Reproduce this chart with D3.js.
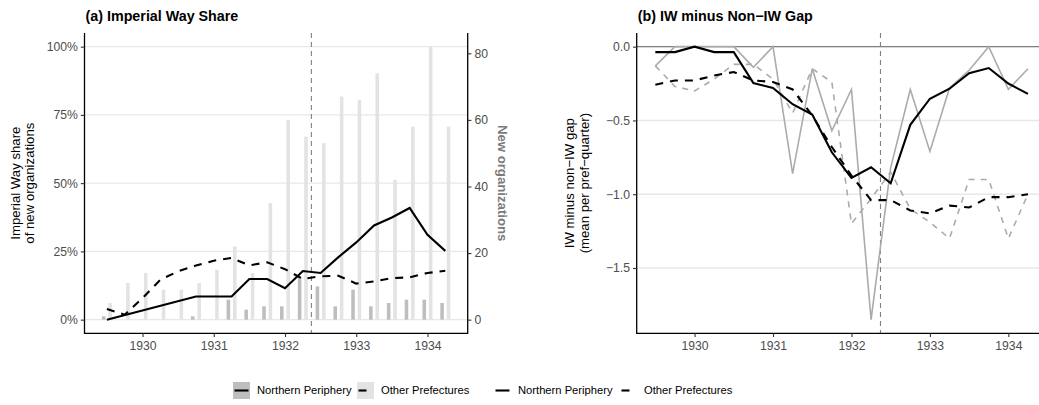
<!DOCTYPE html>
<html>
<head>
<meta charset="utf-8">
<script src="https://cdn.jsdelivr.net/npm/d3@7"></script>
<style>
  body { margin: 0; background: #fff; }
  svg { display: block; font-family: "Liberation Sans", Arial, Helvetica, sans-serif; }
</style>
</head>
<body>
<svg id="chart" width="1039" height="405"></svg>
<script>
// Quarter positions (decimal years) shared by both panels
const quarters = [1929.5, 1929.75, 1930, 1930.25, 1930.5, 1930.75, 1931, 1931.25, 1931.5, 1931.75,
                  1932, 1932.25, 1932.5, 1932.75, 1933, 1933.25, 1933.5, 1933.75, 1934, 1934.25];

// New organizations per quarter
const newOrgsPeriphery = [1, 0, 0, 0, 0, 1, 0, 6, 3, 4, 4, 13, 10, 4, 9, 4, 5, 6, 6, 5];
const newOrgsOther     = [5, 11, 14, 9, 9, 11, 15, 22, 14, 35, 60, 55, 53, 67, 66, 74, 42, 58, 82, 58];

// Imperial Way share of new organizations (percent); null where no organizations were founded
const iwSharePeriphery = [0, null, null, null, null, 8.5, null, 8.5, 14.9, 14.9,
                          11.5, 17.8, 17.1, 22.9, 28.3, 34.5, 37.4, 40.9, 31.1, 25.2];
const iwShareOther     = [3.9, 1.8, 7.9, 14.6, 17.7, 19.8, 21.6, 22.6, 19.9, 21.0,
                          18.5, 14.9, 15.9, 16.1, 13.2, 14.0, 15.2, 15.5, 17.1, 17.9];

// IW minus non-IW gap: quarterly values and smoothed trend
const gapPeriphery       = [-0.13, 0, 0, 0, 0, -0.14, 0, -0.86, -0.15, -0.57,
                            -0.29, -1.85, -0.82, -0.29, -0.71, -0.28, -0.16, 0, -0.29, -0.15];
const gapOther           = [-0.13, -0.27, -0.30, -0.22, -0.12, -0.12, -0.22, -0.45, -0.15, -0.24,
                            -1.20, -1.03, -0.85, -1.10, -1.19, -1.30, -0.90, -0.90, -1.30, -1.00];
const gapPeripheryTrend  = [-0.037, -0.037, 0, -0.037, -0.037, -0.247, -0.28, -0.39, -0.46, -0.716,
                            -0.89, -0.817, -0.926, -0.53, -0.353, -0.285, -0.18, -0.145, -0.25, -0.32];
const gapOtherTrend      = [-0.258, -0.229, -0.229, -0.195, -0.172, -0.229, -0.24, -0.29, -0.467, -0.68,
                            -0.874, -1.04, -1.04, -1.11, -1.13, -1.077, -1.09, -1.02, -1.02, -1.0];

// Axis ticks and labels
const yearTicks  = [1930, 1931, 1932, 1933, 1934];
const shareTicks = [0, 0.25, 0.5, 0.75, 1];
const countTicks = [0, 20, 40, 60, 80];
const gapTicks   = [0, -0.5, -1, -1.5];
const eventDate  = 1932.37;   // 15 May 1932
const groupNames = ["Northern Periphery", "Other Prefectures"];

const C = {
  ink: "#000", tick: "#4d4d4d", grid: "#e8e8e8", ref: "#808080",
  barDark: "#bebebe", barLight: "#e3e3e3", lineGrey: "#ababab", secTitle: "#7a7a7a"
};

const svg = d3.select("#chart");

function rotText(g, x, y, angle, txt, opts) {
  const t = g.append("text")
    .attr("transform", `translate(${x},${y}) rotate(${angle})`)
    .attr("text-anchor", "middle").attr("dy", "0.35em")
    .attr("font-size", opts.size).attr("fill", opts.fill || "#000")
    .text(txt);
  if (opts.bold) t.attr("font-weight", "bold");
  return t;
}

function styleAxis(sel, color) {
  sel.select(".domain").remove();
  sel.selectAll(".tick line").attr("stroke", "#333").attr("stroke-width", 1.1);
  sel.selectAll(".tick text").attr("fill", color).attr("font-size", 12.2)
     .attr("font-family", '"Liberation Sans", Arial, sans-serif');
}

// ---------------- Panel (a) ----------------
const A = { left: 84.5, right: 467.7, top: 33, bottom: 333.3 };
const barOffset = 0.045, barWidth = 0.05;
const xMinA = d3.min(quarters) - barOffset - barWidth / 2;
const xMaxA = d3.max(quarters) + barOffset + barWidth / 2;
const padA = (xMaxA - xMinA) * 0.05;
const xA = d3.scaleLinear().domain([xMinA - padA, xMaxA + padA]).range([A.left, A.right]);
const yShare = d3.scaleLinear().domain([-0.05, 1.05]).range([A.bottom, A.top]);
const maxCount = d3.max(newOrgsOther.concat(newOrgsPeriphery));
const yCount = d3.scaleLinear().domain([-0.05 * maxCount, 1.05 * maxCount]).range([A.bottom, A.top]);

const gA = svg.append("g");
gA.append("g").selectAll("line").data(shareTicks).join("line")
  .attr("x1", A.left).attr("x2", A.right)
  .attr("y1", d => yShare(d)).attr("y2", d => yShare(d))
  .attr("stroke", C.grid).attr("stroke-width", 1.4);

// bars: Northern Periphery left of the quarter, Other Prefectures right
const barsA = gA.append("g");
const barData = quarters.flatMap((q, i) => [
  { x: q - barOffset, n: newOrgsPeriphery[i], fill: C.barDark },
  { x: q + barOffset, n: newOrgsOther[i], fill: C.barLight }
]).filter(d => d.n > 0);
barsA.selectAll("rect").data(barData).join("rect")
  .attr("x", d => xA(d.x - barWidth / 2))
  .attr("width", d => xA(d.x + barWidth / 2) - xA(d.x - barWidth / 2))
  .attr("y", d => yCount(d.n)).attr("height", d => yCount(0) - yCount(d.n))
  .attr("fill", d => d.fill);

// event line
gA.append("line").attr("x1", xA(eventDate)).attr("x2", xA(eventDate))
  .attr("y1", A.top).attr("y2", A.bottom)
  .attr("stroke", C.ref).attr("stroke-width", 1.1).attr("stroke-dasharray", "5,4");

const shareLine = d3.line().x(d => xA(d.q)).y(d => yShare(d.v / 100));
const toPts = arr => quarters.map((q, i) => ({ q, v: arr[i] })).filter(d => d.v !== null);
gA.append("path").attr("d", shareLine(toPts(iwShareOther)))
  .attr("fill", "none").attr("stroke", C.ink).attr("stroke-width", 2.1)
  .attr("stroke-dasharray", "8,7");
gA.append("path").attr("d", shareLine(toPts(iwSharePeriphery)))
  .attr("fill", "none").attr("stroke", C.ink).attr("stroke-width", 2.1);

// axis lines
gA.append("path").attr("d", `M${A.left},${A.top}V${A.bottom}H${A.right}V${A.top}`)
  .attr("fill", "none").attr("stroke", "#000").attr("stroke-width", 1.3);

const axL = gA.append("g").attr("transform", `translate(${A.left},0)`)
  .call(d3.axisLeft(yShare).tickValues(shareTicks).tickFormat(d3.format(".0%")).tickSizeOuter(0).tickSize(3.7).tickPadding(3));
styleAxis(axL, C.tick);
const axR = gA.append("g").attr("transform", `translate(${A.right},0)`)
  .call(d3.axisRight(yCount).tickValues(countTicks).tickFormat(d3.format("d")).tickSizeOuter(0).tickSize(3.7).tickPadding(3));
styleAxis(axR, C.tick);
const axB = gA.append("g").attr("transform", `translate(0,${A.bottom})`)
  .call(d3.axisBottom(xA).tickValues(yearTicks).tickFormat(d3.format("d")).tickSizeOuter(0).tickSize(3.7).tickPadding(4));
styleAxis(axB, C.tick);

gA.append("text").attr("x", A.left + 1).attr("y", 20.5)
  .attr("font-size", 14.3).attr("font-weight", "bold").text("(a) Imperial Way Share");
const midA = (A.top + A.bottom) / 2;
rotText(gA, 15, midA, -90, "Imperial Way share", { size: 13.2 });
rotText(gA, 29.5, midA, -90, "of new organizations", { size: 13.2 });
rotText(gA, 503, midA, 90, "New organizations", { size: 13.2, bold: true, fill: C.secTitle });

// ---------------- Panel (b) ----------------
const B = { left: 636.7, right: 1046.6, top: 33, bottom: 333.3 };
const padB = (d3.max(quarters) - d3.min(quarters)) * 0.05;
const xB = d3.scaleLinear().domain([d3.min(quarters) - padB, d3.max(quarters) + padB]).range([B.left, B.right]);
const allGap = gapPeriphery.concat(gapOther, gapPeripheryTrend, gapOtherTrend);
const gMin = d3.min(allGap), gMax = d3.max(allGap);
const padG = (gMax - gMin) * 0.05;
const yGap = d3.scaleLinear().domain([gMin - padG, gMax + padG]).range([B.bottom, B.top]);

const gB = svg.append("g");
gB.append("g").selectAll("line").data(gapTicks).join("line")
  .attr("x1", B.left).attr("x2", B.right)
  .attr("y1", d => yGap(d)).attr("y2", d => yGap(d))
  .attr("stroke", C.grid).attr("stroke-width", 1.4);
gB.append("line").attr("x1", B.left).attr("x2", B.right)
  .attr("y1", yGap(0)).attr("y2", yGap(0))
  .attr("stroke", C.ref).attr("stroke-width", 1.1);
gB.append("line").attr("x1", xB(eventDate)).attr("x2", xB(eventDate))
  .attr("y1", B.top).attr("y2", B.bottom)
  .attr("stroke", C.ref).attr("stroke-width", 1.1).attr("stroke-dasharray", "5,4");

const gapLine = d3.line().x((d, i) => xB(quarters[i])).y(d => yGap(d));
gB.append("path").attr("d", gapLine(gapOther)).attr("fill", "none")
  .attr("stroke", C.lineGrey).attr("stroke-width", 1.6).attr("stroke-dasharray", "6,6");
gB.append("path").attr("d", gapLine(gapPeriphery)).attr("fill", "none")
  .attr("stroke", C.lineGrey).attr("stroke-width", 1.6);
gB.append("path").attr("d", gapLine(gapOtherTrend)).attr("fill", "none")
  .attr("stroke", C.ink).attr("stroke-width", 2.1).attr("stroke-dasharray", "8,7");
gB.append("path").attr("d", gapLine(gapPeripheryTrend)).attr("fill", "none")
  .attr("stroke", C.ink).attr("stroke-width", 2.1);

gB.append("path").attr("d", `M${B.left},${B.top}V${B.bottom}H${B.right}`)
  .attr("fill", "none").attr("stroke", "#000").attr("stroke-width", 1.3);
const axBL = gB.append("g").attr("transform", `translate(${B.left},0)`)
  .call(d3.axisLeft(yGap).tickValues(gapTicks).tickFormat(d3.format(".1f")).tickSizeOuter(0).tickSize(3.7).tickPadding(3));
styleAxis(axBL, C.tick);
const axBB = gB.append("g").attr("transform", `translate(0,${B.bottom})`)
  .call(d3.axisBottom(xB).tickValues(yearTicks).tickFormat(d3.format("d")).tickSizeOuter(0).tickSize(3.7).tickPadding(4));
styleAxis(axBB, C.tick);

gB.append("text").attr("x", B.left + 1).attr("y", 20.5)
  .attr("font-size", 14.3).attr("font-weight", "bold").text("(b) IW minus Non\u2212IW Gap");
rotText(gB, 569, midA, -90, "IW minus non\u2212IW gap", { size: 13.2 });
rotText(gB, 584, midA, -90, "(mean per pref\u2212quarter)", { size: 13.2 });

// ---------------- Legends ----------------
const legY = 382, keySize = 17;
const leg = svg.append("g").attr("font-size", 11.2);
const legendItems = [
  { x: 233, fill: C.barDark, dash: null, label: groupNames[0] },
  { x: 357, fill: C.barLight, dash: "8,7", label: groupNames[1] },
  { x: 494, fill: "none", dash: null, label: groupNames[0] },
  { x: 620, fill: "none", dash: "8,7", label: groupNames[1] }
];
legendItems.forEach(it => {
  if (it.fill !== "none") {
    leg.append("rect").attr("x", it.x).attr("y", legY).attr("width", keySize).attr("height", keySize)
      .attr("fill", it.fill);
  }
  const ln = leg.append("line").attr("x1", it.x + 1.5).attr("x2", it.x + keySize - 1.5)
    .attr("y1", legY + keySize / 2).attr("y2", legY + keySize / 2)
    .attr("stroke", "#000").attr("stroke-width", 2.1);
  if (it.dash) ln.attr("stroke-dasharray", it.dash);
  leg.append("text").attr("x", it.x + keySize + 7).attr("y", legY + keySize / 2)
    .attr("dy", "0.35em").attr("fill", "#000").text(it.label);
});
</script>
</body>
</html>
